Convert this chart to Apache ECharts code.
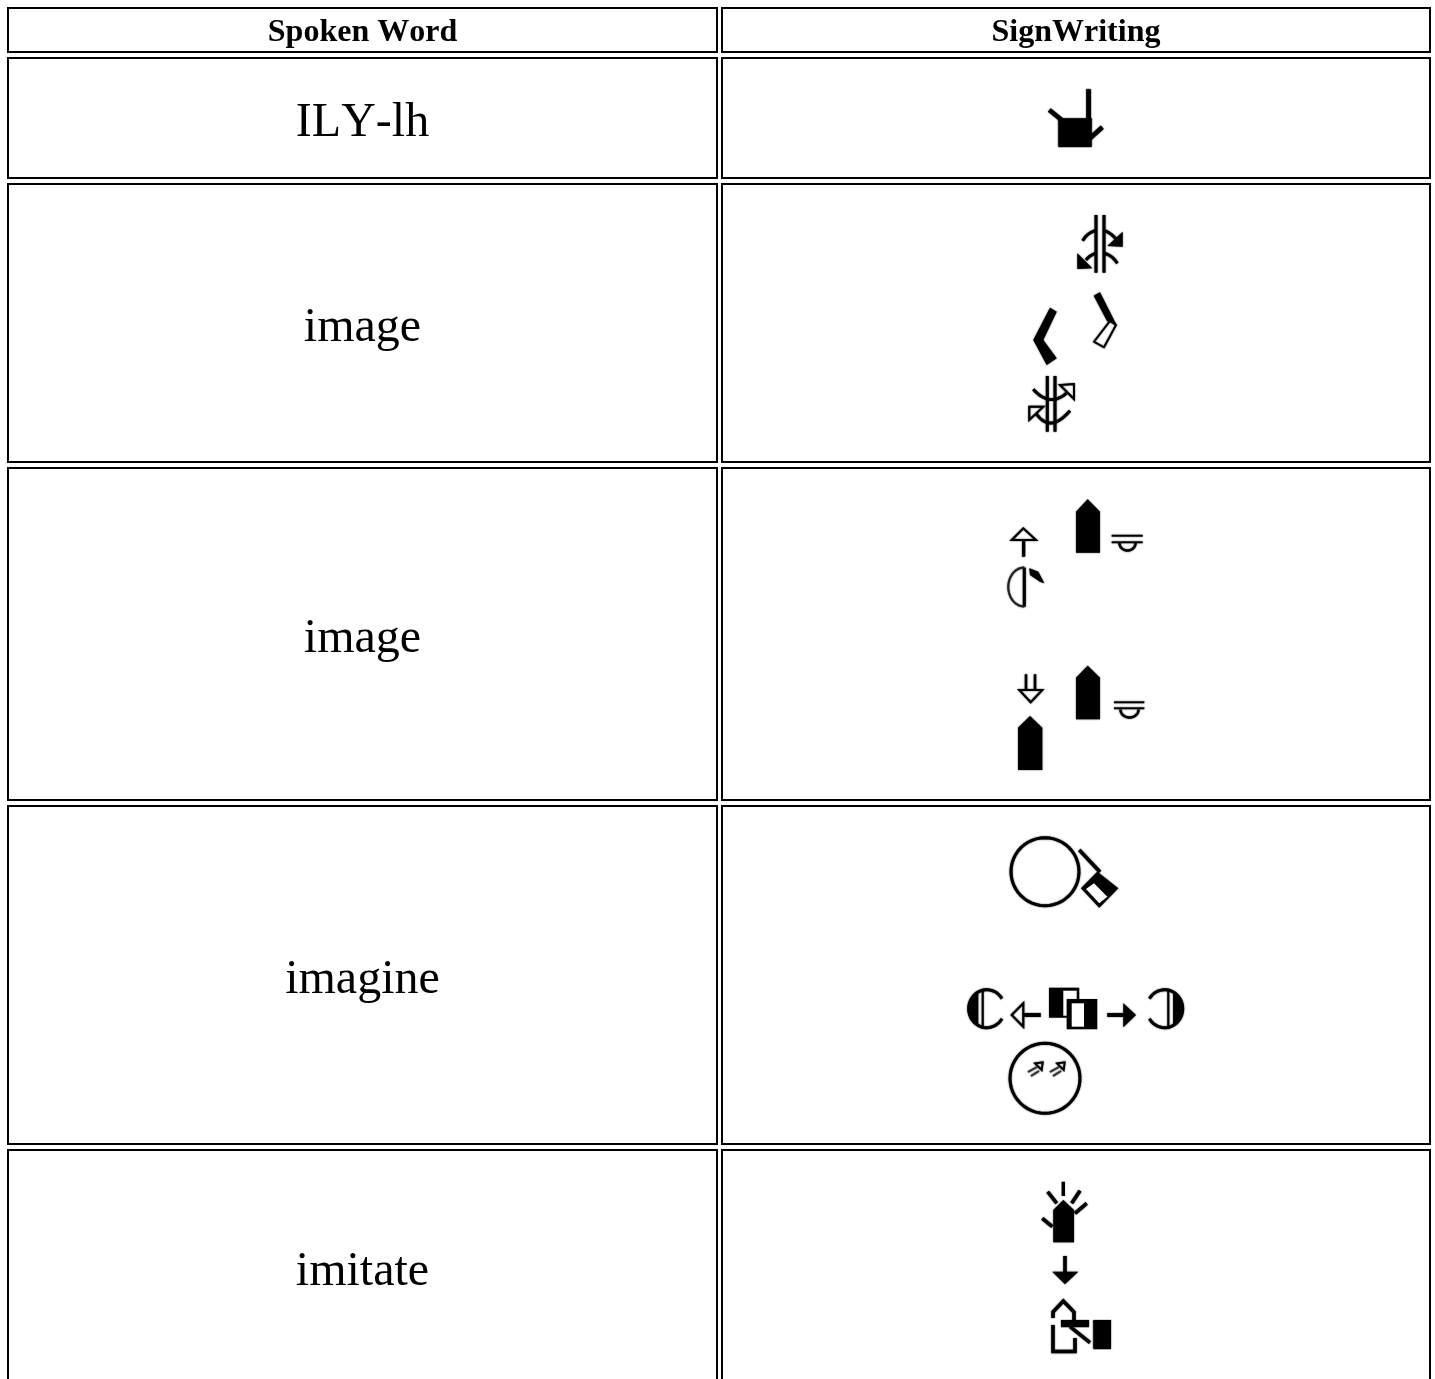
<!DOCTYPE html>
<html><head><meta charset="utf-8">
<style>html,body{margin:0;padding:0;background:#fff}#c{width:1435px;height:1379px}</style>
<script src="https://cdn.jsdelivr.net/npm/echarts@6/dist/echarts.min.js"></script>
</head><body><div id="c"></div>
<script>
const headers = ['Spoken Word', 'SignWriting'];
const spokenWords = ['ILY-lh', 'image', 'image', 'imagine', 'imitate'];
const signGlyphs = ['ily', 'imageA', 'imageB', 'imagine', 'imitate'];

// table geometry, in axis units
const colEdges = [[8, 717], [722, 1430]];
const rowEdges = [[8, 52], [58, 178], [184, 462], [468, 800], [806, 1144], [1150, 1500]];
const headerTextY = 32.5, wordTextY = [123.5, 328.5, 639.5, 980.5, 1272.5];

// the reference text is set without kerning
const nativeGetContext = HTMLCanvasElement.prototype.getContext;
HTMLCanvasElement.prototype.getContext = function (type, opts) {
  const ctx = nativeGetContext.call(this, type, opts);
  if (ctx && type === '2d' && 'fontKerning' in ctx) ctx.fontKerning = 'none';
  return ctx;
};

const poly = (pts, fill) => ({k: 'poly', pts, fill: fill || '#000'});
const hollow = (pts, w) => ({k: 'poly', pts, fill: '#fff', stroke: '#000', w});
const line = (pts, w, stroke) => ({k: 'line', pts, w, stroke: stroke || '#000'});
const rect = (x0, y0, x1, y1, fill) => poly([[x0, y0], [x1, y0], [x1, y1], [x0, y1]], fill);
function arc(cx, cy, rx, ry, a0, a1) {
  const out = [];
  for (let i = 0; i <= 48; i++) {
    const a = (a0 + (a1 - a0) * i / 48) * Math.PI / 180;
    out.push([cx + rx * Math.cos(a), cy + ry * Math.sin(a)]);
  }
  return out;
}
function quad(p0, c, p1) {
  const out = [];
  for (let i = 0; i <= 20; i++) {
    const t = i / 20, u = 1 - t;
    out.push([u * u * p0[0] + 2 * u * t * c[0] + t * t * p1[0], u * u * p0[1] + 2 * u * t * c[1] + t * t * p1[1]]);
  }
  return out;
}
const shapes = {
  ily: [
    rect(1058.3, 118.3, 1091.7, 147.3),
    line([[1088.7, 89.3], [1088.7, 140]], 5),
    line([[1049.3, 110], [1061.7, 120]], 4.5),
    line([[1090, 138.3], [1102.3, 127.3]], 4.5)
  ],
  imageA: [
    line([[1096, 215], [1096, 272.7]], 3), line([[1104, 215], [1104, 272.7]], 3),
    line(quad([1082.7, 240.7], [1088, 232], [1096, 230.7]), 3),
    line(quad([1104, 230.7], [1110, 232], [1117, 240]), 3),
    poly([[1122.7, 231.7], [1122.7, 246.7], [1107.3, 246]]),
    line(quad([1086, 260], [1090, 255], [1096, 253.3]), 3),
    line(quad([1104, 253.3], [1112, 255], [1117.3, 263.3]), 3),
    poly([[1077.3, 253.3], [1077.3, 269], [1092.3, 268.3]]),
    poly([[1093.7, 295.7], [1100, 292.3], [1116.3, 324.5], [1109, 322], [1107, 321]]),
    hollow([[1110, 321], [1116, 325], [1104, 347.3], [1094, 341.7]], 1.8),
    poly([[1050, 307.7], [1056.7, 311.7], [1043.3, 340], [1056.7, 358.3], [1046.7, 365], [1033.3, 340]]),
    line([[1047.3, 376], [1047.3, 431.7]], 3), line([[1055, 376], [1055, 431.7]], 3),
    line(quad([1033.3, 389.3], [1050, 408], [1067, 392.7]), 3),
    hollow([[1074, 384], [1074, 399], [1060, 385]], 2),
    line(quad([1036, 413.3], [1050, 434], [1070, 410.7]), 3),
    hollow([[1029.3, 406.7], [1029.3, 420], [1043.3, 406.7]], 2)
  ],
  imageB: [
    poly([[1076, 511.7], [1087.7, 499.3], [1100, 511.7], [1100, 552.7], [1076, 552.7]]),
    line([[1111.7, 535.7], [1142.7, 535.7]], 1.8), line([[1111.7, 542.3], [1142.7, 542.3]], 1.8),
    line(arc(1127.5, 543, 8, 7.5, 0, 180), 2.5),
    hollow([[1011.7, 540], [1023.3, 528.3], [1036, 540]], 2),
    line([[1023.7, 540], [1023.7, 556.7]], 3.5),
    line([[1024.3, 567.7], [1024.3, 606.7]], 3),
    line(arc(1024.3, 587, 16, 19.5, 90, 270), 2, '#222'),
    poly([[1029.3, 568.3], [1038.3, 571.7], [1044.3, 583.3], [1040, 581.7], [1030, 575]]),
    poly([[1076, 677.7], [1087.7, 665.7], [1100, 677.7], [1100, 719.3], [1076, 719.3]]),
    line([[1114, 702.3], [1144.3, 702.3]], 1.8), line([[1114, 708.3], [1144.3, 708.3]], 1.8),
    line(arc(1129.5, 709.5, 9, 8, 0, 180), 2.5),
    line([[1026, 674.3], [1026, 690]], 2.5), line([[1035, 674.3], [1035, 690]], 2.5),
    hollow([[1019.3, 690], [1042.3, 690], [1030.7, 702.3]], 2),
    poly([[1018, 727.7], [1030, 716], [1042.3, 727.7], [1042.3, 770], [1018, 770]])
  ],
  imagine: [
    line(arc(1045, 871.7, 34, 34, 0, 360), 3),
    line([[1079.3, 850], [1100, 872]], 3.5),
    poly([[1097.3, 871.7], [1118.3, 888.3], [1099.3, 907.7], [1081, 888.3]]),
    poly([[1094, 883.3], [1107.3, 896.7], [1099.3, 903.3], [1086, 889]], '#fff'),
    // left half
    line(arc(986.7, 1008.7, 18, 19, 328, 32), 3),
    poly(arc(986.7, 1008.7, 18, 19, 118, 242)),
    line([[982.7, 989], [982.7, 1028.5]], 2),
    // left arrow
    hollow([[1011.7, 1015], [1023.3, 1003.3], [1023.3, 1026.7]], 2),
    line([[1023.3, 1015], [1040.7, 1015]], 4),
    // overlapping squares
    rect(1049, 987.7, 1079.3, 1017.7),
    rect(1063.3, 990.7, 1076.7, 1015.7, '#fff'),
    rect(1066.7, 999, 1097.3, 1029.3),
    rect(1071.7, 1003.3, 1084, 1026.7, '#fff'),
    // right arrow
    line([[1107.3, 1015], [1123.3, 1015]], 4),
    poly([[1123.3, 1003.3], [1136, 1015], [1123.3, 1027.3]]),
    // right half
    line(arc(1164.7, 1008.7, 18, 19, -148, 148), 3),
    poly(arc(1164.7, 1008.7, 18, 19, -62, 62)),
    line([[1168.3, 989], [1168.3, 1028.5]], 2),
    // face
    line(arc(1045, 1078.3, 35, 35, 0, 360), 3),
    hollow([[1035, 1063.3], [1042.7, 1062.3], [1041.7, 1070]], 1.8),
    line([[1028, 1072], [1037, 1067]], 2, '#333'), line([[1031, 1076], [1039, 1071]], 2, '#333'),
    hollow([[1057, 1063.3], [1064.7, 1062.3], [1063.7, 1070]], 1.8),
    line([[1050, 1072], [1059, 1067]], 2, '#333'), line([[1053, 1076], [1061, 1071]], 2, '#333')
  ],
  imitate: [
    poly([[1053.3, 1210], [1063.3, 1200], [1074, 1210], [1074, 1242.3], [1053.3, 1242.3]]),
    line([[1063.3, 1181.7], [1063.3, 1196]], 3.5),
    line([[1047.7, 1191.7], [1056.7, 1203.3]], 3.5),
    line([[1080, 1190.7], [1071.7, 1203.3]], 3.5),
    line([[1086.7, 1203.3], [1075, 1213.3]], 3.5),
    line([[1042.3, 1218.3], [1052.3, 1226.7]], 3.5),
    line([[1065, 1256], [1065, 1272]], 3.5),
    poly([[1052.3, 1271.7], [1078.3, 1271.7], [1065, 1284.3]]),
    line([[1053, 1318], [1053, 1312], [1063.3, 1301], [1074, 1312], [1074, 1322]], 3.5),
    line([[1053, 1325], [1053, 1351.5], [1075, 1351.5], [1075, 1338]], 3.5),
    rect(1061, 1320, 1089, 1327.3),
    line([[1070, 1326.7], [1090, 1342.7]], 3.5),
    rect(1093.3, 1320, 1111, 1349.3)
  ]
};

const soft = {shadowBlur: 1.5, shadowColor: 'rgba(0,0,0,0.9)'};
function drawShape(s, api) {
  const points = s.pts.map(p => api.coord(p));
  if (s.k === 'line') {
    return {type: 'polyline', shape: {points}, style: {stroke: s.stroke, lineWidth: s.w, fill: null, ...soft}};
  }
  const extra = s.fill === '#fff' && !s.stroke ? {} : soft;
  return {type: 'polygon', shape: {points}, style: {fill: s.fill, stroke: s.stroke || null, lineWidth: s.w || 0, ...extra}};
}

function cellBox(api, c, r) {
  const a = api.coord([colEdges[c][0], rowEdges[r][0]]);
  const b = api.coord([colEdges[c][1], rowEdges[r][1]]);
  return {type: 'rect', shape: {x: a[0], y: a[1], width: b[0] - a[0], height: b[1] - a[1]},
    style: {fill: '#fff', stroke: '#000', lineWidth: 2}};
}
const label = (api, c, y, text, size, weight) => {
  const p = api.coord([(colEdges[c][0] + colEdges[c][1]) / 2, y]);
  return {type: 'text', style: {x: p[0], y: p[1], text, fontSize: size, fontWeight: weight,
    fontFamily: '"Liberation Serif"', fill: '#000', align: 'center', verticalAlign: 'middle'}};
};

const rows = [];
headers.forEach((h, c) => rows.push({value: [c, 0], kind: 'h', text: h}));
spokenWords.forEach((w, i) => {
  rows.push({value: [0, i + 1], kind: 'w', text: w, idx: i});
  rows.push({value: [1, i + 1], kind: 'g', glyph: signGlyphs[i]});
});

function renderItem(params, api) {
  const d = rows[params.dataIndex];
  const c = d.value[0], r = d.value[1];
  const children = [cellBox(api, c, r)];
  if (d.kind === 'h') children.push(label(api, c, headerTextY, d.text, 32, 'bold'));
  if (d.kind === 'w') children.push(label(api, c, wordTextY[d.idx], d.text, 48, 'normal'));
  if (d.kind === 'g') shapes[d.glyph].forEach(s => children.push(drawShape(s, api)));
  return {type: 'group', children};
}

const chart = echarts.init(document.getElementById('c'), null, {renderer: 'canvas'});
chart.setOption({
  animation: false,
  backgroundColor: '#fff',
  grid: {left: 0, right: 0, top: 0, bottom: 0},
  xAxis: {type: 'value', min: 0, max: 1435, show: false},
  yAxis: {type: 'value', min: 0, max: 1379, inverse: true, show: false},
  tooltip: {show: false},
  series: [{type: 'custom', coordinateSystem: 'cartesian2d', clip: false, silent: true,
    data: rows, renderItem, encode: {x: 0, y: 1}}]
});
</script></body></html>
